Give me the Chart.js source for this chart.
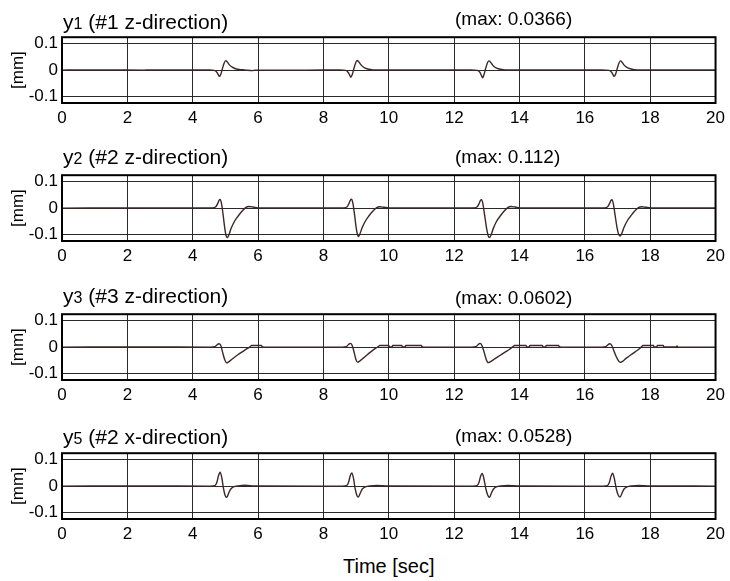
<!DOCTYPE html>
<html>
<head>
<meta charset="utf-8">
<script src="https://cdn.jsdelivr.net/npm/chart.js@4.4.1/dist/chart.umd.min.js"></script>
<style>
  body { margin: 0; background: #fff; font-family: "Liberation Sans", Arial, sans-serif; }
  #wrap { position: relative; width: 730px; height: 581px; overflow: hidden; }
  canvas { position: absolute; left: 0; }
  .t { position: absolute; white-space: nowrap; color: #000; z-index: 2; }
</style>
</head>
<body>
<div id="wrap"></div>
<script>
// axis ticks
const xTicks = [0, 2, 4, 6, 8, 10, 12, 14, 16, 18, 20];
const yTicks = [-0.1, 0, 0.1];

// panel labels
const panelNames = ["y", "y", "y", "y"];
const panelSubs = ["1", "2", "3", "5"];
const panelDirs = [" (#1 z-direction)", " (#2 z-direction)", " (#3 z-direction)", " (#2 x-direction)"];
const maxLabels = ["(max: 0.0366)", "(max: 0.112)", "(max: 0.0602)", "(max: 0.0528)"];

// y1 (#1 z-direction)
const t1 = [0, 0.5, 1.4, 2.5, 2.7, 4.5,
  4.66, 4.74, 4.79, 4.82, 4.86, 4.91, 4.96, 5.01, 5.06, 5.13, 5.21, 5.31, 5.44, 5.59,
  5.83, 5.9, 7.5, 8.5,
  8.68, 8.76, 8.81, 8.84, 8.88, 8.93, 8.98, 9.03, 9.08, 9.15, 9.23, 9.33, 9.46, 9.61,
  10.0, 12.5,
  12.71, 12.79, 12.84, 12.87, 12.91, 12.96, 13.01, 13.06, 13.11, 13.18, 13.26, 13.36, 13.49, 13.64,
  14.5, 16.5,
  16.74, 16.82, 16.87, 16.9, 16.94, 16.99, 17.04, 17.09, 17.14, 17.21, 17.29, 17.39, 17.52, 17.67,
  18.2, 20];
const y1 = [0, 0.001, 0.001, 0, 0.001, 0.001,
  -0.001, -0.008, -0.019, -0.024, -0.016, 0.006, 0.026, 0.036, 0.031, 0.019, 0.011, 0.005, 0.002, 0.001,
  -0.002, 0, 0, 0.001,
  -0.001, -0.009, -0.021, -0.027, -0.018, 0.005, 0.025, 0.0366, 0.032, 0.02, 0.011, 0.005, 0.002, 0.001,
  0.001, 0.001,
  -0.001, -0.009, -0.022, -0.029, -0.019, 0.004, 0.024, 0.035, 0.031, 0.019, 0.01, 0.005, 0.002, 0.001,
  0.001, 0.001,
  -0.001, -0.008, -0.019, -0.024, -0.016, 0.005, 0.025, 0.035, 0.03, 0.018, 0.01, 0.005, 0.002, 0.001,
  0.001, 0.001];

// y2 (#2 z-direction)
const t2 = [0, 2.5, 4.0,
  4.6, 4.7, 4.76, 4.81, 4.84, 4.88, 4.93, 4.98, 5.02, 5.06, 5.1, 5.18, 5.28, 5.38, 5.5, 5.62, 5.72, 5.85, 6.0,
  7.5,
  8.62, 8.72, 8.78, 8.83, 8.86, 8.9, 8.95, 9.0, 9.04, 9.07, 9.11, 9.19, 9.29, 9.39, 9.51, 9.63, 9.73, 9.86, 10.02,
  11.5,
  12.6, 12.7, 12.76, 12.81, 12.84, 12.88, 12.93, 12.99, 13.04, 13.08, 13.12, 13.2, 13.3, 13.4, 13.52, 13.64, 13.74, 13.87, 14.02,
  15.5,
  16.59, 16.69, 16.75, 16.8, 16.83, 16.87, 16.92, 16.98, 17.03, 17.08, 17.12, 17.2, 17.3, 17.4, 17.52, 17.64, 17.74, 17.87, 18.02,
  20];
const y2 = [0, 0.001, 0.001,
  0.001, 0.004, 0.016, 0.03, 0.033, 0.018, -0.025, -0.075, -0.104, -0.112, -0.104, -0.076, -0.05, -0.032, -0.013, 0.002, 0.006, 0.004, 0.001,
  0.001,
  0.001, 0.004, 0.017, 0.031, 0.034, 0.02, -0.022, -0.072, -0.1, -0.108, -0.1, -0.073, -0.048, -0.03, -0.012, 0.002, 0.005, 0.003, 0.001,
  0.001,
  0.001, 0.004, 0.016, 0.03, 0.032, 0.017, -0.024, -0.074, -0.104, -0.112, -0.105, -0.077, -0.05, -0.032, -0.013, 0.002, 0.006, 0.004, 0.001,
  0.001,
  0.001, 0.004, 0.016, 0.029, 0.032, 0.018, -0.022, -0.07, -0.098, -0.106, -0.099, -0.073, -0.048, -0.031, -0.012, 0.002, 0.005, 0.003, 0.001,
  0.001];

// y3 (#3 z-direction)
const t3 = [0, 2.5, 4.5,
  4.55, 4.68, 4.75, 4.8, 4.83, 4.87, 4.92, 4.98, 5.04, 5.1, 5.22, 5.36, 5.5, 5.64, 5.76, 5.8, 6.1, 6.13, 6.3,
  8.5,
  8.57, 8.7, 8.77, 8.82, 8.85, 8.89, 8.94, 8.99, 9.04, 9.1, 9.22, 9.34, 9.46, 9.58, 9.68, 9.72, 10.0, 10.02, 10.1, 10.12, 10.4, 10.42, 10.5, 10.52, 11.0, 11.02, 11.2,
  12.5,
  12.54, 12.67, 12.74, 12.79, 12.82, 12.86, 12.92, 12.98, 13.04, 13.1, 13.24, 13.4, 13.56, 13.7, 13.8, 13.85, 14.2, 14.22, 14.3, 14.32, 14.7, 14.72, 14.8, 14.82, 15.2, 15.22, 15.4,
  16.5,
  16.53, 16.64, 16.71, 16.76, 16.79, 16.84, 16.91, 17.0, 17.08, 17.14, 17.26, 17.4, 17.54, 17.66, 17.74, 17.78, 18.1, 18.12, 18.2, 18.22, 18.4, 18.42, 18.8, 18.82, 18.84,
  20];
const y3 = [0, 0.001, 0,
  0, 0.002, 0.009, 0.013, 0.012, 0.002, -0.022, -0.048, -0.06, -0.056, -0.044, -0.031, -0.019, -0.008, 0.002, 0.006, 0.006, 0.001, 0,
  0,
  0, 0.002, 0.01, 0.014, 0.013, 0.003, -0.02, -0.045, -0.057, -0.054, -0.042, -0.029, -0.017, -0.006, 0.002, 0.006, 0.006, 0.001, 0.001, 0.006, 0.006, 0.001, 0.001, 0.006, 0.006, 0.001, 0,
  0,
  0, 0.002, 0.01, 0.014, 0.013, 0.003, -0.02, -0.046, -0.059, -0.056, -0.045, -0.032, -0.019, -0.008, 0.002, 0.006, 0.006, 0.001, 0.001, 0.006, 0.006, 0.001, 0.001, 0.006, 0.006, 0.001, 0,
  0,
  0, 0.002, 0.009, 0.013, 0.012, 0.002, -0.021, -0.046, -0.058, -0.055, -0.043, -0.03, -0.018, -0.007, 0.002, 0.006, 0.006, 0.001, 0.001, 0.006, 0.006, 0.001, 0.001, 0.004, 0,
  0];

// y5 (#2 x-direction)
const t5 = [0, 2.5, 4.5,
  4.55, 4.68, 4.74, 4.79, 4.84, 4.89, 4.94, 4.99, 5.04, 5.09, 5.16, 5.25, 5.4, 5.6, 5.9,
  8.5,
  8.58, 8.71, 8.77, 8.82, 8.87, 8.92, 8.97, 9.02, 9.07, 9.12, 9.19, 9.28, 9.43, 9.63, 9.93,
  12.5,
  12.57, 12.7, 12.76, 12.81, 12.86, 12.91, 12.97, 13.03, 13.08, 13.13, 13.2, 13.29, 13.44, 13.64, 13.94,
  16.5,
  16.56, 16.69, 16.75, 16.8, 16.85, 16.9, 16.96, 17.02, 17.08, 17.13, 17.2, 17.29, 17.44, 17.64, 17.94,
  20];
const y5 = [0, 0.001, 0,
  0, 0.002, 0.015, 0.04, 0.0528, 0.032, -0.008, -0.035, -0.043, -0.03, -0.012, -0.003, 0.001, 0.003, 0.001,
  0,
  0, 0.002, 0.015, 0.039, 0.05, 0.03, -0.009, -0.034, -0.042, -0.029, -0.011, -0.003, 0.001, 0.002, 0.001,
  0,
  0, 0.002, 0.014, 0.037, 0.048, 0.029, -0.01, -0.035, -0.043, -0.03, -0.012, -0.003, 0.001, 0.002, 0.001,
  0,
  0, 0.002, 0.014, 0.037, 0.049, 0.03, -0.009, -0.034, -0.042, -0.029, -0.011, -0.003, 0.001, 0.002, 0.001,
  0];

const seriesT = [t1, t2, t3, t5];
const seriesY = [y1, y2, y3, y5];

// layout of the four panels (plot-area tops) and text baselines
const plotTops = [37, 175, 314, 453];
const titleTops = [11, 146, 285, 426];
const maxTops = [9, 147, 288, 426];
const plotH = 66, padTop = 14, axisH = 30;

const frame = {
  id: "frame",
  afterDatasetsDraw(chart) {
    const a = chart.chartArea, c = chart.ctx;
    c.save();
    c.strokeStyle = "#000";
    c.lineWidth = 2;
    c.strokeRect(a.left, a.top, a.right - a.left, a.bottom - a.top);
    c.restore();
  }
};

const wrap = document.getElementById("wrap");
const tickFont = { family: "'Liberation Sans', Arial, sans-serif", size: 17 };

for (let i = 0; i < 4; i++) {
  let cv = document.createElement("canvas");
  cv.width = 730;
  cv.height = padTop + plotH + axisH;
  cv.style.top = (plotTops[i] - padTop) + "px";
  wrap.appendChild(cv);

  let pts = seriesT[i].map((t, k) => ({ x: t, y: seriesY[i][k] }));

  new Chart(cv.getContext("2d"), {
    type: "line",
    data: {
      datasets: [{
        data: pts,
        borderColor: "#3c2626",
        borderWidth: 1.4,
        pointRadius: 0,
        cubicInterpolationMode: "monotone"
      }]
    },
    options: {
      responsive: false,
      animation: false,
      devicePixelRatio: 1,
      layout: { padding: { left: 0, right: 13, top: padTop, bottom: 0 } },
      plugins: { legend: { display: false }, tooltip: { enabled: false } },
      scales: {
        x: {
          type: "linear",
          min: 0, max: 20,
          afterBuildTicks: s => { s.ticks = xTicks.map(v => ({ value: v })); },
          afterFit: s => { s.height = axisH; },
          ticks: { font: tickFont, color: "#000", padding: 5, maxRotation: 0, autoSkip: false },
          grid: { color: "#2a2a2a", lineWidth: 1, drawTicks: false },
          border: { display: false }
        },
        y: {
          min: -0.125, max: 0.125,
          afterBuildTicks: s => { s.ticks = yTicks.map(v => ({ value: v })); },
          afterFit: s => { s.width = 62; },
          ticks: {
            font: tickFont, color: "#000", padding: 4,
            callback: v => v === 0 ? "0" : v.toFixed(1)
          },
          grid: { color: "#2a2a2a", lineWidth: 1, drawTicks: false },
          border: { display: false },
          title: {
            display: true, text: "[mm]", color: "#000",
            font: { family: "'Liberation Sans', Arial, sans-serif", size: 17 },
            padding: { top: 8, bottom: 0 }
          }
        }
      }
    },
    plugins: [frame]
  });

  let tt = document.createElement("div");
  tt.className = "t";
  tt.style.left = "63px";
  tt.style.top = titleTops[i] + "px";
  tt.style.fontSize = "21px";
  tt.style.lineHeight = "21px";
  tt.innerHTML = panelNames[i] + '<span style="font-size:16px">' + panelSubs[i] + "</span>" + panelDirs[i];
  wrap.appendChild(tt);

  let mt = document.createElement("div");
  mt.className = "t";
  mt.style.left = "455px";
  mt.style.top = maxTops[i] + "px";
  mt.style.fontSize = "19px";
  mt.style.lineHeight = "19px";
  mt.textContent = maxLabels[i];
  wrap.appendChild(mt);
}

let xt = document.createElement("div");
xt.className = "t";
xt.style.left = "343px";
xt.style.top = "556px";
xt.style.fontSize = "20px";
xt.style.lineHeight = "20px";
xt.textContent = "Time [sec]";
wrap.appendChild(xt);
</script>
</body>
</html>
